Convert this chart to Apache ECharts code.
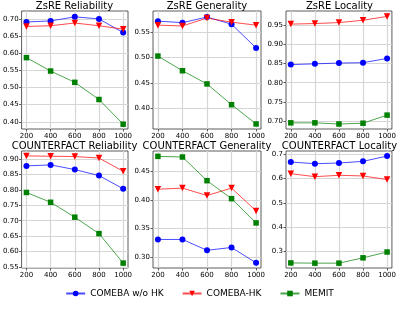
<!DOCTYPE html>
<html>
<head>
<meta charset="utf-8">
<script src="https://cdn.jsdelivr.net/npm/echarts@6/dist/echarts.min.js"></script>
<style>
html,body{margin:0;padding:0;background:#fff;}
#chart{width:399px;height:316px;}
</style>
</head>
<body>
<div id="chart"></div>
<script>
const steps = [200, 400, 600, 800, 1000];
const seriesNames = ['COMEBA w/o HK', 'COMEBA-HK', 'MEMIT'];
const titles = ['ZsRE Reliability', 'ZsRE Generality', 'ZsRE Locality',
                'COUNTERFACT Reliability', 'COUNTERFACT Generality', 'COUNTERFACT Locality'];

const zsreRelW = [0.691, 0.694, 0.706, 0.700, 0.660];
const zsreRelHK = [0.678, 0.680, 0.688, 0.680, 0.670];
const zsreRelMEMIT = [0.587, 0.548, 0.515, 0.465, 0.393];

const zsreGenW = [0.572, 0.569, 0.580, 0.566, 0.519];
const zsreGenHK = [0.564, 0.5625, 0.578, 0.570, 0.564];
const zsreGenMEMIT = [0.503, 0.474, 0.448, 0.407, 0.369];

const zsreLocW = [0.847, 0.849, 0.851, 0.852, 0.863];
const zsreLocHK = [0.952, 0.9535, 0.956, 0.962, 0.972];
const zsreLocMEMIT = [0.696, 0.696, 0.693, 0.695, 0.716];

const cfRelW = [0.8785, 0.8817, 0.8666, 0.847, 0.804];
const cfRelHK = [0.911, 0.910, 0.909, 0.904, 0.861];
const cfRelMEMIT = [0.792, 0.760, 0.7115, 0.658, 0.562];

const cfGenW = [0.331, 0.331, 0.312, 0.317, 0.290];
const cfGenHK = [0.419, 0.421, 0.408, 0.421, 0.381];
const cfGenMEMIT = [0.4766, 0.4755, 0.434, 0.4025, 0.360];

const cfLocW = [0.6685, 0.6616, 0.6644, 0.6712, 0.6932];
const cfLocHK = [0.6205, 0.608, 0.6137, 0.611, 0.596];
const cfLocMEMIT = [0.252, 0.251, 0.251, 0.273, 0.297];

const xTicks = [200, 400, 600, 800, 1000];
const yTicks1 = [0.40, 0.45, 0.50, 0.55, 0.60, 0.65, 0.70];
const yTicks2 = [0.40, 0.45, 0.50, 0.55];
const yTicks3 = [0.70, 0.75, 0.80, 0.85, 0.90, 0.95];
const yTicks4 = [0.55, 0.60, 0.65, 0.70, 0.75, 0.80, 0.85, 0.90];
const yTicks5 = [0.30, 0.35, 0.40, 0.45];
const yTicks6 = [0.3, 0.4, 0.5, 0.6, 0.7];
const yDecimals = [2, 2, 2, 2, 2, 1];

const panelData = [
  [zsreRelW, zsreRelHK, zsreRelMEMIT],
  [zsreGenW, zsreGenHK, zsreGenMEMIT],
  [zsreLocW, zsreLocHK, zsreLocMEMIT],
  [cfRelW, cfRelHK, cfRelMEMIT],
  [cfGenW, cfGenHK, cfGenMEMIT],
  [cfLocW, cfLocHK, cfLocMEMIT]
];
const panelTicks = [yTicks1, yTicks2, yTicks3, yTicks4, yTicks5, yTicks6];
const yRanges = [[0.379, 0.723], [0.359, 0.592], [0.680, 0.986],
                 [0.546, 0.927], [0.281, 0.486], [0.231, 0.714]];
const xRange = [160, 1040];

const colors = ['#0000ff', '#ff0000', '#008000'];
const symbols = ['circle', 'path://M0,0L2,0L1,1.8Z', 'rect'];
const symSizes = [6, 6.5, 5.5];

const font = 'DejaVu Sans';
const lefts = [21, 153, 286];
const widths = [107, 108, 107];
const tops = [11, 151];
const heights = [118, 117];

const grids = [], xAxes = [], yAxes = [], series = [], graphics = [];
for (let p = 0; p < 6; p++) {
  const col = p % 3, row = Math.floor(p / 3);
  grids.push({left: lefts[col], top: tops[row], width: widths[col], height: heights[row],
    show: true, borderColor: '#333', borderWidth: 0.8, backgroundColor: 'transparent'});
  xAxes.push({type: 'value', gridIndex: p, min: xRange[0], max: xRange[1],
    axisLine: {show: false},
    axisTick: {show: true, length: 2.5, customValues: xTicks, lineStyle: {color: '#333', width: 0.8}},
    axisLabel: {customValues: xTicks, fontSize: 7, fontFamily: font, color: '#000', margin: 3.5,
      formatter: v => String(v)},
    splitLine: {show: true, lineStyle: {color: '#d6d6d6', width: 1.2}}});
  const dec = yDecimals[p];
  yAxes.push({type: 'value', gridIndex: p, min: yRanges[p][0], max: yRanges[p][1],
    axisLine: {show: false},
    axisTick: {show: true, length: 2.5, customValues: panelTicks[p], lineStyle: {color: '#333', width: 0.8}},
    axisLabel: {customValues: panelTicks[p], fontSize: 7, fontFamily: font, color: '#000', margin: 3,
      formatter: v => v.toFixed(dec)},
    splitLine: {show: true, lineStyle: {color: '#d6d6d6', width: 1.2}}});
  for (let s = 0; s < 3; s++) {
    series.push({type: 'line', name: seriesNames[s], xAxisIndex: p, yAxisIndex: p,
      data: steps.map((x, i) => [x, panelData[p][s][i]]),
      symbol: symbols[s], symbolSize: symSizes[s], showSymbol: true,
      itemStyle: {color: colors[s], opacity: 1},
      lineStyle: {color: colors[s], width: 1, opacity: 0.7},
      emphasis: {disabled: true}, animation: false, z: 2 + s});
  }
  graphics.push({type: 'text', x: lefts[col] + widths[col] / 2, y: tops[row] - 5,
    style: {text: titles[p], fontSize: 10, fontFamily: font, fill: '#000',
      textAlign: 'center', textVerticalAlign: 'middle'}});
}

const chart = echarts.init(document.getElementById('chart'), null, {renderer: 'canvas'});
chart.setOption({
  animation: false,
  backgroundColor: '#fff',
  grid: grids, xAxis: xAxes, yAxis: yAxes, series: series,
  graphic: graphics,
  legend: {data: seriesNames, top: 289, left: 'center', padding: 0,
    itemWidth: 19, itemHeight: 7, itemGap: 18,
    textStyle: {fontSize: 9, fontFamily: font, color: '#000'}}
});
</script>
</body>
</html>
